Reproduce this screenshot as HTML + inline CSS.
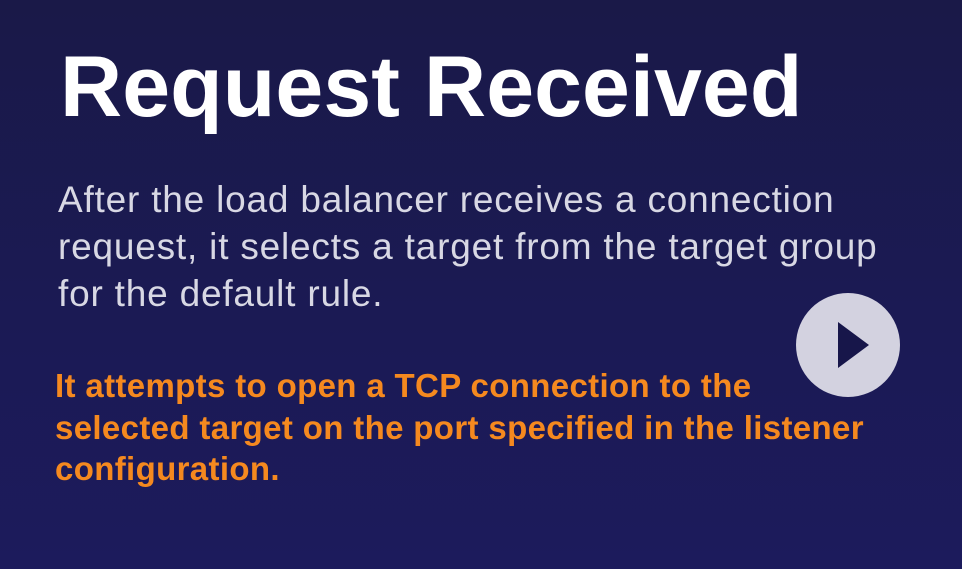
<!DOCTYPE html>
<html><head><style>
html,body{margin:0;padding:0}
body{width:962px;height:569px;overflow:hidden;background:linear-gradient(180deg,#1a1948 0%,#1b1a55 60%,#1c1b5c 100%);font-family:"Liberation Sans",sans-serif;position:relative}
h1{position:absolute;left:60px;top:37px;margin:0;color:#fff;font-size:86px;font-weight:bold;letter-spacing:0.1px;line-height:100px;white-space:nowrap}
.p{position:absolute;left:58px;top:176px;color:#d8d8e4;font-size:37px;line-height:47px;margin:0;letter-spacing:0.8px;white-space:nowrap}
.o{position:absolute;left:55px;top:365px;color:#f5891f;font-size:33px;font-weight:bold;line-height:41.5px;margin:0;letter-spacing:0.35px;white-space:nowrap}
.play{position:absolute;left:796px;top:293px;width:104px;height:104px;border-radius:50%;background:#d3d2e0}
.tri{position:absolute;left:42px;top:29px;width:0;height:0;border-top:23px solid transparent;border-bottom:23px solid transparent;border-left:31px solid #17164a}
</style></head><body>
<h1>Request Received</h1>
<p class="p">After the load balancer receives a connection<br>request, it selects a target from the target group<br>for the default rule.</p>
<p class="o">It attempts to open a TCP connection to the<br>selected target on the port specified in the listener<br>configuration.</p>
<div class="play"><div class="tri"></div></div>
</body></html>
